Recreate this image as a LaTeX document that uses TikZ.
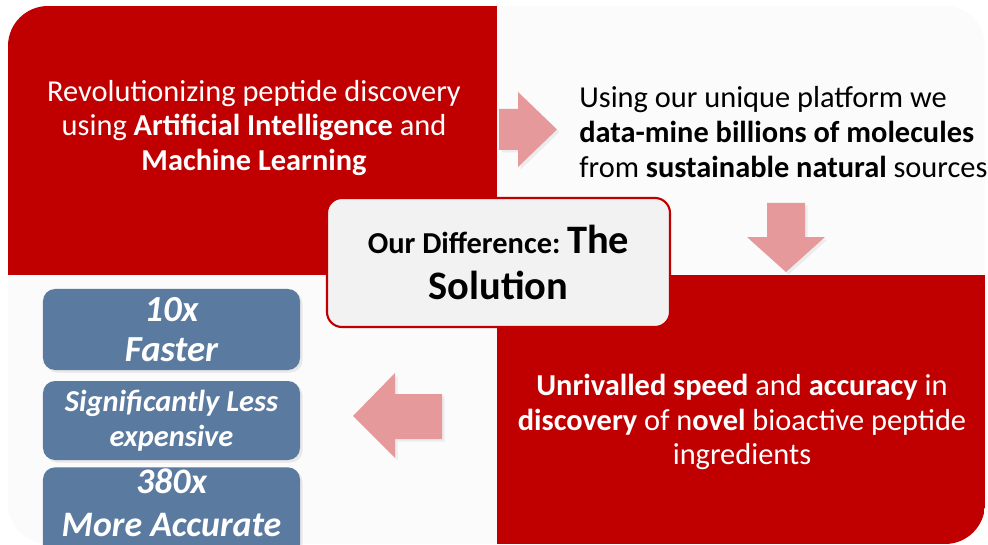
\documentclass[tikz,border=0pt]{standalone}
\usepackage{fontspec}
\setmainfont{Carlito}
\usetikzlibrary{positioning,shadows}
\definecolor{deepred}{HTML}{C00000}
\definecolor{panelgray}{HTML}{FBFBFB}
\definecolor{boxgray}{HTML}{F2F2F2}
\definecolor{arrowpink}{HTML}{E6999B}
\definecolor{slateblue}{HTML}{5B7AA0}

\begin{document}
\begin{tikzpicture}[
  x=0.2mm, y=-0.2mm,
  txt/.style={inner sep=0pt, font=\fontsize{17.3}{19.7}\selectfont},
  benefit/.style={fill=slateblue, rounded corners=2.4mm, minimum width=51.4mm,
    text=white, align=center, inner xsep=0pt, inner ysep=0pt,
    drop shadow={opacity=0.15, shadow xshift=0.5mm, shadow yshift=-0.5mm}},
  blockarrow/.style={fill=arrowpink,
    drop shadow={opacity=0.12, shadow xshift=0.5mm, shadow yshift=-0.5mm}}
]
\useasboundingbox (0,0) rectangle (988,545);
\clip (0,0) rectangle (988,545);

% the four quarters
\begin{scope}
  \clip[rounded corners=8mm] (8,6) rectangle (985,544);
  \fill[panelgray] (8,6) rectangle (985,544);
  \fill[deepred] (8,6) rectangle (497,275);
  \fill[deepred] (497,275) rectangle (985,544);
\end{scope}

\node[txt, text=white, align=center] (ai) at (254,128)
  {Revolutionizing peptide discovery\\using \textbf{Artificial Intelligence} and\\\textbf{Machine Learning}};
\node[txt, align=left, anchor=west] (mine) at (579,132)
  {Using our unique platform we\\\textbf{data-mine billions of molecules}\\from \textbf{sustainable natural} sources};
\node[txt, text=white, align=center] (speed) at (742,422)
  {\textbf{Unrivalled speed} and \textbf{accuracy} in\\\textbf{discovery} of n\textbf{ovel} bioactive peptide\\ingredients};

% block arrows
\fill[blockarrow] (499,109) -- (518,109) -- (518,92) -- (557,129.5) -- (518,167) -- (518,150) -- (499,150) -- cycle;
\fill[blockarrow] (767,203) -- (805,203) -- (805,237) -- (825,237) -- (786,272) -- (747,237) -- (767,237) -- cycle;
\fill[blockarrow] (442,394) -- (395,394) -- (395,373) -- (353,416) -- (395,458) -- (395,439) -- (442,439) -- cycle;

% centre box
\node[draw=deepred, line width=1.2pt, fill=boxgray, rounded corners=3mm,
  minimum width=68.6mm, minimum height=25.8mm, align=center,
  font=\bfseries\fontsize{23}{26.6}\selectfont] (diff) at (498.5,262.5)
  {{\fontsize{17.3}{19}\selectfont Our Difference:}\,The\\Solution};

% benefits
\node[benefit, minimum height=16.2mm, font=\bfseries\itshape\fontsize{20.9}{23.2}\selectfont]
  (faster) at (171.5,329.5) {10x\\Faster};
\node[benefit, minimum height=15.8mm, font=\bfseries\itshape\fontsize{17.3}{19.8}\selectfont]
  (cheaper) at (171.5,420.5) {Significantly Less\\expensive};
\node[benefit, anchor=north, inner ysep=0.3mm, text depth=5mm,
  font=\bfseries\itshape\fontsize{20.4}{24.4}\selectfont]
  (accurate) at (171.5,467) {380x\\More Accurate};
\end{tikzpicture}
\end{document}
